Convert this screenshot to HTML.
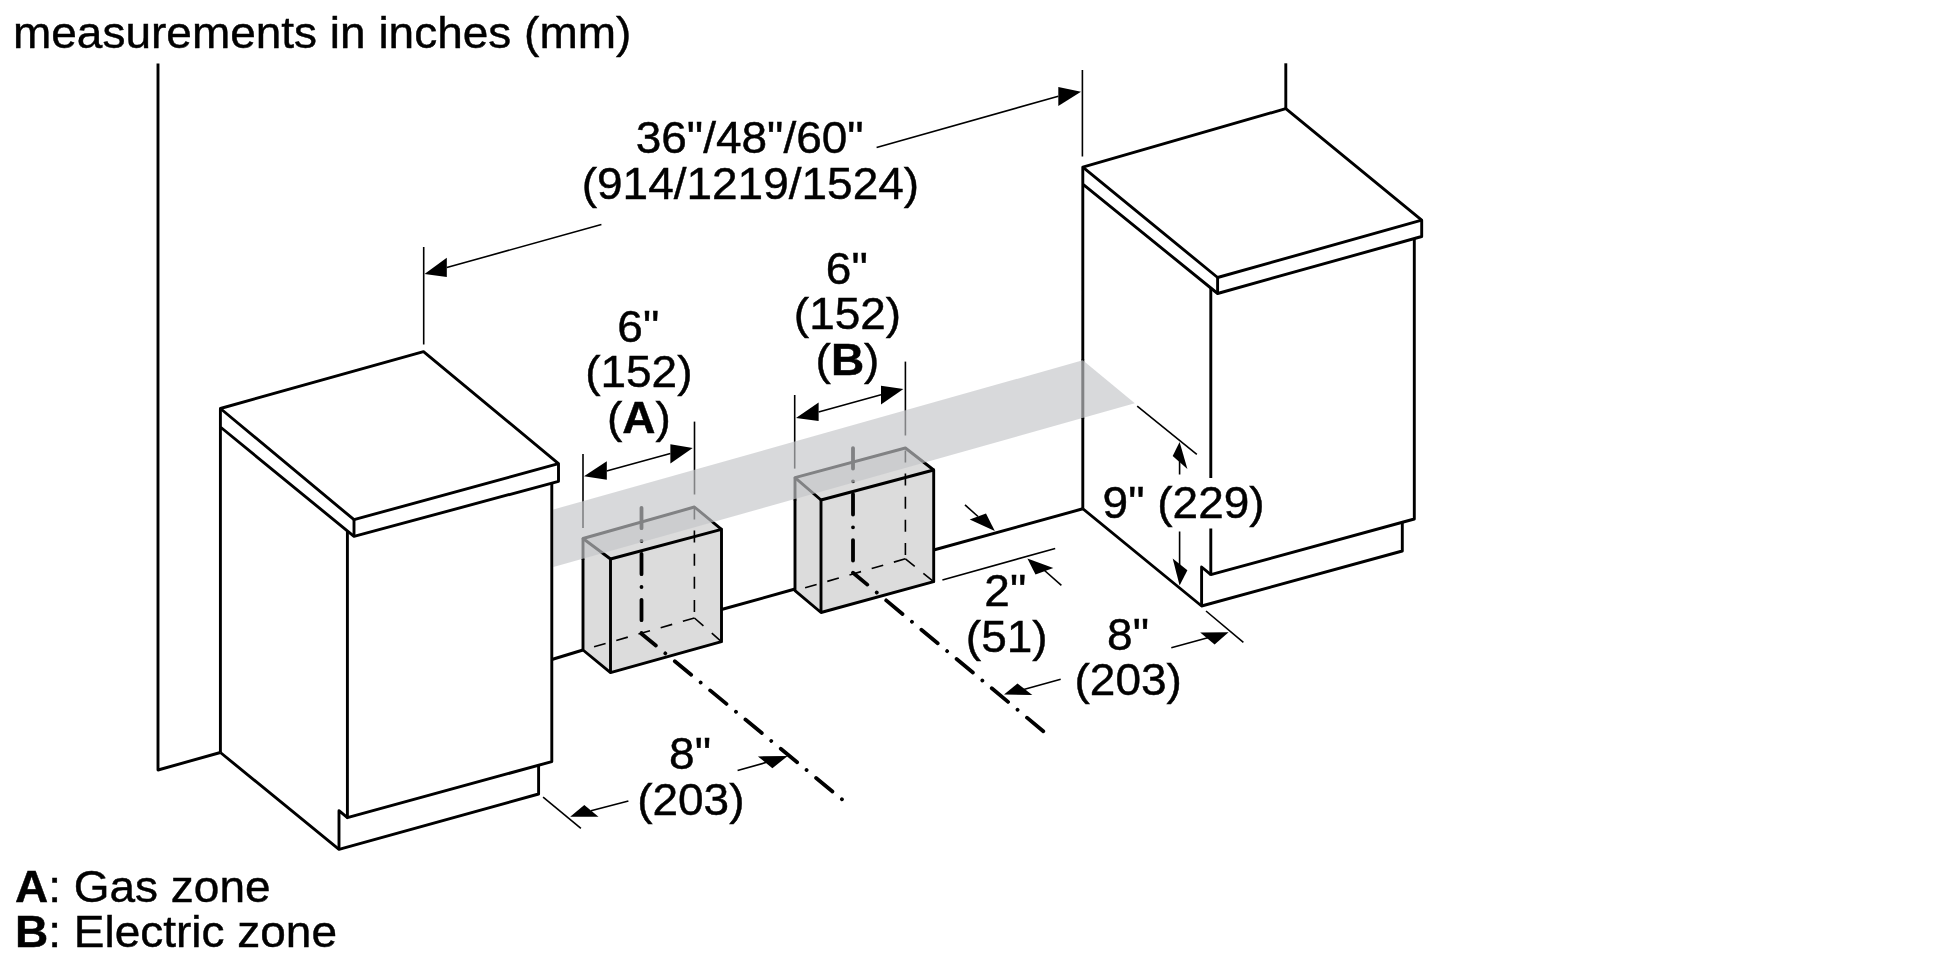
<!DOCTYPE html>
<html><head><meta charset="utf-8">
<style>
html,body{margin:0;padding:0;background:#fff;}
svg{display:block;}
text{font-family:"Liberation Sans",sans-serif;font-size:45px;fill:#000;stroke:#000;stroke-width:0.45;}
.b{font-weight:bold;}
.m{stroke:#000;stroke-width:2.9;fill:none;stroke-linejoin:round;stroke-linecap:butt;}
.t{stroke:#000;stroke-width:1.6;fill:none;}
.c{stroke:#000;stroke-width:3.8;fill:none;}
.a{fill:#000;stroke:none;}
</style></head><body>
<svg width="1946" height="973" viewBox="0 0 1946 973">
<rect width="1946" height="973" fill="#fff"/>

<!-- box fills -->
<g id="boxfill" fill="#dcdcdc" stroke="none">
<polygon points="583,538.5 694.4,507 721.5,529.3 721.5,641.7 610.5,672.6 583,650"/>
<polygon points="795,477.6 905.4,448 933.7,470 933.7,581.7 821,612.5 795,590.7"/>
</g>

<!-- hidden dashed lines -->
<g class="t" id="hidden" stroke-dasharray="12 11.1" stroke-width="1.7">
<path d="M694.4,507.5 V617"/>
<path d="M694.4,618 L583,650"/>
<path d="M694.4,618 L721.5,641.7"/>
<path d="M905.4,450.5 V558"/>
<path d="M905.4,558.8 L795,590.7"/>
<path d="M905.4,558.8 L933.7,581.7"/>
</g>

<!-- centerlines vertical -->
<g class="c" id="cl" stroke-linecap="round">
<path d="M641.5,507.8 V633.7" stroke-dasharray="20.4 12.8 0.01 12.8"/>
<path d="M641.5,633.7 L842.7,799.9" stroke-dasharray="21.2 12.3 0.01 12.3" stroke-dashoffset="2.6"/>
<path d="M853,448.1 V572.7" stroke-dasharray="20.4 12.8 0.01 12.8"/>
<path d="M853,572.7 L1052,738.5" stroke-dasharray="21.2 12.3 0.01 12.3" stroke-dashoffset="2.6"/>
</g>

<!-- back extension lines (under band) -->
<g class="t" id="ext">
<path d="M583,454 V528"/>
<path d="M694.5,421.6 V494.5"/>
<path d="M794.7,395 V468.6"/>
<path d="M905.4,361.6 V435.5"/>
<path d="M1082.8,359.5 V419" stroke-width="3"/>
</g>
<!-- back edges of boxes -->
<g class="m" id="boxback" stroke-width="2.7">
<path d="M610.5,559 L583,538.5 L694.4,507 L721.5,529.3"/>
<path d="M583,538.5 V560" stroke-width="2.9"/>
<path d="M821,500 L795,477.6 L905.4,448 L933.7,470"/>
<path d="M795,477.6 V500.5" stroke-width="2.9"/>
</g>

<!-- band -->
<polygon id="band" points="553.4,509.6 1082.8,360.3 1134.8,403.2 553.4,567.1" fill="#c4c5c8" fill-opacity="0.66"/>

<!-- main outlines -->
<g class="m" id="main">
<!-- left wall -->
<path d="M158,63.5 V770 L220.4,752.5"/>
<!-- left cabinet -->
<path d="M220.4,752.5 V408.5 L423.5,351.7 L558.5,463.6 V481.3 L354,536.4 L220.4,427"/>
<path d="M220.4,408.5 L354,519.7 L558.5,463.6"/>
<path d="M354,519.7 V536.4"/>
<path d="M347.4,531 V817.7 L551.8,761.6 V483"/>
<path d="M220.4,752.5 L339,849.4 L538.6,794 V765.4"/>
<path d="M339,849.4 V810.7 L347.4,817.7"/>
<!-- floor line -->
<path d="M551.8,659.5 L583,650"/>
<path d="M721.5,609.5 L795,589"/>
<path d="M933.7,550 L1082.8,508.75"/>
<!-- box A front -->
<path d="M583,559.2 V650 L610.5,672.6 L721.5,641.7 V529.3 L610.5,559 V672.6"/>
<!-- box B front -->
<path d="M795,499.6 V590.7 L821,612.5 L933.7,581.7 V470 L821,500 V612.5"/>
<!-- right wall corner -->
<path d="M1285.8,63.3 V108.6"/>
<!-- right cabinet -->
<path d="M1082.8,508.75 V418.5 M1082.8,360 V167.1 L1285.8,108.6 L1421.7,220.2 V236.5 L1217.6,293.5 L1082.8,184.1"/>
<path d="M1082.8,167.1 L1217.6,277.5 L1421.7,220.2"/>
<path d="M1217.6,277.5 V293.5"/>
<path d="M1210.8,288 V478 M1210.8,528.6 V574.6 L1414.3,519 V238.5"/>
<path d="M1082.8,508.75 L1201.6,606 L1402.3,551 V522.5"/>
<path d="M1201.6,606 V567 L1210.8,574.6"/>
</g>

<!-- dimension thin lines -->
<g class="t" id="dims">
<!-- big dimension -->
<path d="M423.7,247 V344.5"/>
<path d="M1082.4,70 V156.5"/>
<path d="M601.4,224.4 L446.8,267.6"/>
<path d="M876.6,147.4 L1058.3,96.3"/>
<!-- A dim -->
<path d="M606.6,471 L670.4,453.5"/>
<!-- B dim -->
<path d="M818.6,412 L881,394.7"/>
<!-- 2in -->
<path d="M942.4,580 L1055.2,548.5"/>
<path d="M965,504.9 L978,516.5"/>
<path d="M1044,570 L1061.4,585.3"/>
<!-- 9in -->
<path d="M1137.2,406.1 L1196.8,454.3"/>
<path d="M1179.6,460 V474.6 M1179.6,531.4 V566"/>
<!-- 8in right -->
<path d="M1206,611 L1243.4,642.3"/>
<path d="M1171.3,647.8 L1208.7,637.6"/>
<path d="M1060.7,679.2 L1023.7,689.6"/>
<!-- 8in left -->
<path d="M543.1,797.1 L580.9,828.3"/>
<path d="M628.4,801 L591,810.8"/>
<path d="M737.6,770.5 L767.4,762.1"/>
</g>

<!-- arrowheads -->
<g class="a" id="arrows">
<polygon points="424.5,274 446.8,257.8 446.8,276.9"/>
<polygon points="1081,91.7 1058.3,87 1058.3,106"/>
<polygon points="584,476.2 606.8,461.2 606.8,479.8"/>
<polygon points="692.7,448 670.4,444.2 670.4,463.5"/>
<polygon points="796,418 818.6,402.6 818.6,421"/>
<polygon points="903.4,389 881,385.7 881,404.4"/>
<polygon points="994.8,531 969.7,519.5 986,513.6"/>
<polygon points="1027.4,558.4 1035.5,574.4 1053.3,568"/>
<polygon points="1179.6,442.1 1172.7,456 1187.4,469"/>
<polygon points="1179.6,585.5 1172.7,558.6 1187.4,570.2"/>
<polygon points="1228.6,632.2 1200.2,632.6 1214.6,644.6"/>
<polygon points="1004,694.5 1017.5,683.4 1032.3,695"/>
<polygon points="570.2,816.8 584.3,805 598.5,816.8"/>
<polygon points="787.7,756 757.9,756.4 772.4,768.2"/>
</g>

<!-- text -->
<g id="txt" opacity="0.999">
<text transform="translate(13,48.4) scale(1.022,1)">measurements in inches (mm)</text>
<text transform="translate(749.7,152.8) scale(1.022,1)" text-anchor="middle">36"/48"/60"</text>
<text transform="translate(750.4,199.2) scale(1.022,1)" text-anchor="middle">(914/1219/1524)</text>
<text transform="translate(638.3,341.9) scale(1.022,1)" text-anchor="middle">6"</text>
<text transform="translate(638.8,387) scale(1.022,1)" text-anchor="middle">(152)</text>
<text transform="translate(638.8,433.4) scale(1.022,1)" text-anchor="middle">(<tspan class="b">A</tspan>)</text>
<text transform="translate(846.8,283.8) scale(1.022,1)" text-anchor="middle">6"</text>
<text transform="translate(847.5,329.4) scale(1.022,1)" text-anchor="middle">(152)</text>
<text transform="translate(847.5,374.9) scale(1.022,1)" text-anchor="middle">(<tspan class="b">B</tspan>)</text>
<text transform="translate(1005.3,606.3) scale(1.022,1)" text-anchor="middle">2"</text>
<text transform="translate(1006.7,652) scale(1.022,1)" text-anchor="middle">(51)</text>
<text transform="translate(1183.6,517.7) scale(1.022,1)" text-anchor="middle">9" (229)</text>
<text transform="translate(1128,650.4) scale(1.022,1)" text-anchor="middle">8"</text>
<text transform="translate(1128.2,695.3) scale(1.022,1)" text-anchor="middle">(203)</text>
<text transform="translate(690,768.7) scale(1.022,1)" text-anchor="middle">8"</text>
<text transform="translate(690.8,814.6) scale(1.022,1)" text-anchor="middle">(203)</text>
<text transform="translate(15,902.2) scale(1.022,1)"><tspan class="b">A</tspan>: Gas zone</text>
<text transform="translate(15,947.3) scale(1.022,1)"><tspan class="b">B</tspan>: Electric zone</text>
</g>
</svg>
</body></html>
